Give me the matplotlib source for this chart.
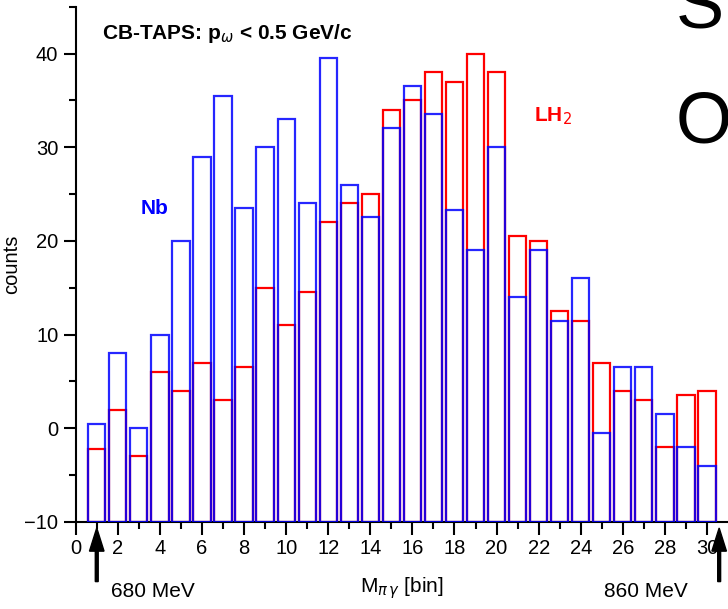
import matplotlib
matplotlib.use("Agg")
import matplotlib.pyplot as plt
import numpy as np

bins = list(range(1, 31))
nb = [0.5, 8, 0, 10, 20, 29, 35.5, 23.5, 30, 33, 24, 39.5, 26, 22.5, 32,
      36.5, 33.5, 23.3, 19, 30, 14, 19, 11.5, 16, -0.5, 6.5, 6.5, 1.5, -2, -4]
lh2 = [-2.2, 2, -3, 6, 4, 7, 3, 6.5, 15, 11, 14.5, 22, 24, 25, 34,
       35, 38, 37, 40, 38, 20.5, 20, 12.5, 11.5, 7, 4, 3, -2, 3.5, 4]
xticks = list(range(0, 31, 2))
yticks = [-10, 0, 10, 20, 30, 40]

plt.rcParams['font.family'] = ['Liberation Sans', 'DejaVu Sans']

fig = plt.figure(figsize=(7.28, 6.09), dpi=100)
ax = fig.add_axes([0.104, 0.143, 0.896, 0.846])
base = -10
w = 0.82
ax.bar(bins, np.array(lh2) - base, bottom=base, width=w, fill=False,
       edgecolor=(1, 0, 0), linewidth=1.6, zorder=2)
ax.bar(bins, np.array(nb) - base, bottom=base, width=w, fill=False,
       edgecolor=(0, 0, 1), linewidth=1.6, alpha=0.85, zorder=3)

ax.set_xlim(0, 31)
ax.set_ylim(-10, 45)
ax.set_xticks(xticks)
ax.set_xticks(range(0, 31), minor=True)
ax.set_yticks(yticks)
ax.set_yticks(range(-10, 46, 5), minor=True)
for s in ['top', 'right']:
    ax.spines[s].set_visible(False)
for s in ['left', 'bottom']:
    ax.spines[s].set_linewidth(1.5)
ax.tick_params(which='major', direction='out', length=9, width=1.5, labelsize=14.5)
ax.tick_params(which='minor', direction='out', length=5, width=1.5)
ax.set_ylabel('counts', fontsize=14.5, labelpad=2)
ax.set_xlabel(r'M$_{\pi\,\gamma}$ [bin]', fontsize=15, labelpad=12)

ax.text(0.04, 0.97, r'CB-TAPS: p$_{\omega}$ < 0.5 GeV/c', transform=ax.transAxes,
        fontsize=15, fontweight='bold', va='top', ha='left')
ax.text(3.1, 23.5, 'Nb', color=(0, 0, 1), fontsize=15, fontweight='bold',
        ha='left', va='center')
ax.text(21.8, 33.3, r'LH$_2$', color=(1, 0, 0), fontsize=15, fontweight='bold',
        ha='left', va='center')

# arrows below axis
for xd in [1.0, 30.58]:
    xf = 0.104 + 0.896 * xd / 31
    fig.patches.append(matplotlib.patches.FancyArrow(
        xf, 0.045, 0, 0.088, width=0.004, head_width=0.02, head_length=0.038,
        length_includes_head=True, color='black', transform=fig.transFigure))
fig.text(0.153, 0.028, '680 MeV', fontsize=15, ha='left', va='center')
fig.text(0.830, 0.028, '860 MeV', fontsize=15, ha='left', va='center')

fig.text(0.928, 0.955, 'S', fontsize=52, ha='left', va='baseline')
fig.text(0.928, 0.766, 'O', fontsize=52, ha='left', va='baseline')

fig.savefig('out.png', dpi=100)
